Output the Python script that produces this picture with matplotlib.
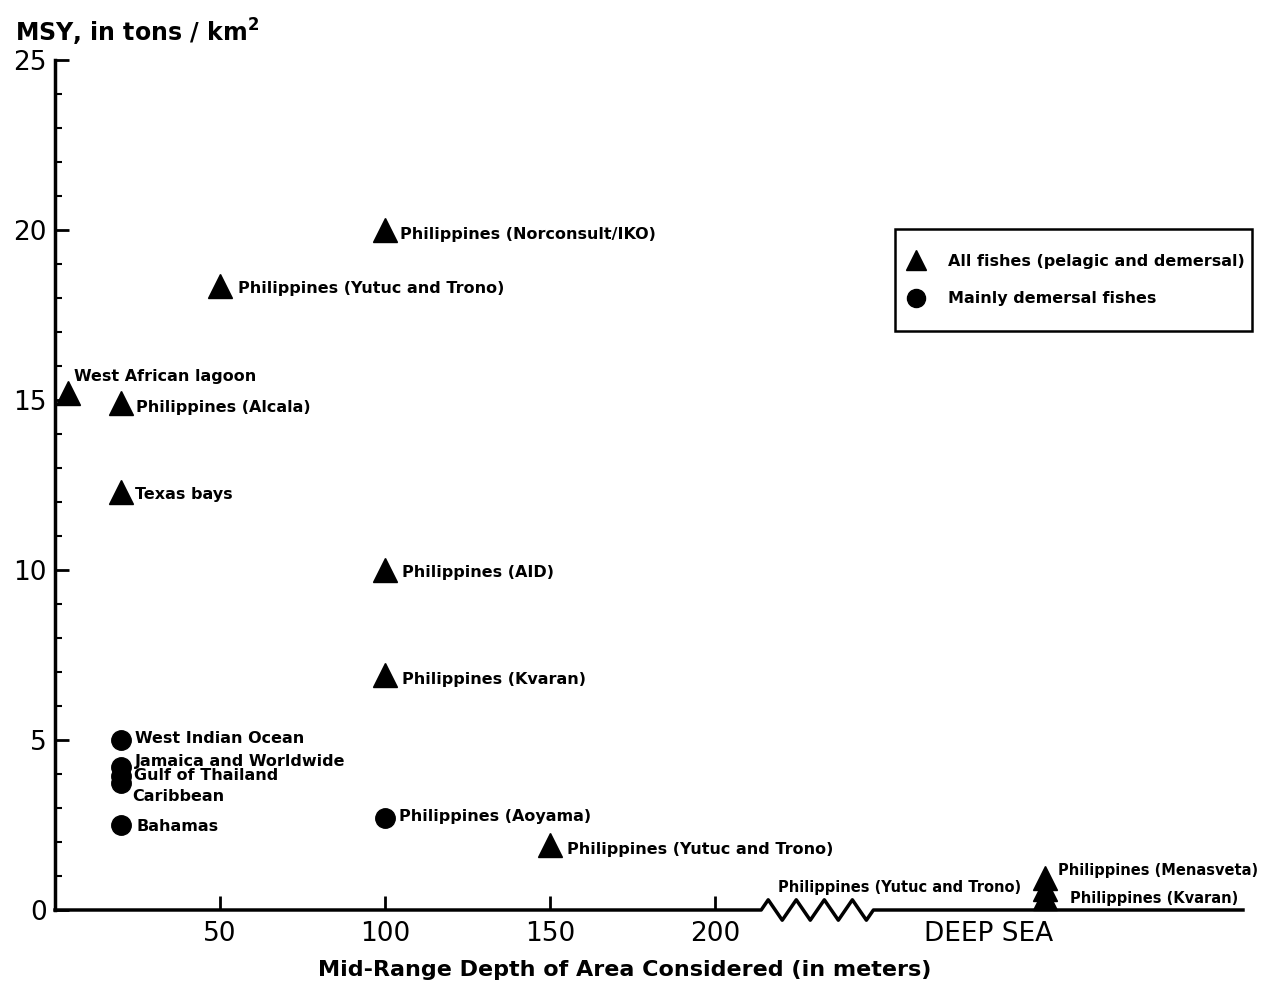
import matplotlib
matplotlib.use("Agg")
import matplotlib.pyplot as plt
from matplotlib.lines import Line2D
from matplotlib.patches import Rectangle

# --- data ---
tri_x = [4, 20, 20, 50, 100, 100, 100, 150, 300, 300, 300]
tri_y = [15.2, 14.9, 12.3, 18.35, 20.0, 10.0, 6.9, 1.9, 0.95, 0.62, 0.35]
tri_labels = ["West African lagoon", "Philippines (Alcala)", "Texas bays",
              "Philippines (Yutuc and Trono)", "Philippines (Norconsult/IKO)",
              "Philippines (AID)", "Philippines (Kvaran)",
              "Philippines (Yutuc and Trono)", "Philippines (Menasveta)",
              "Philippines (Yutuc and Trono)", "Philippines (Kvaran)"]

circ_x = [20, 20, 20, 20, 20, 100]
circ_y = [5.0, 4.2, 3.95, 3.75, 2.5, 2.7]
circ_labels = ["West Indian Ocean", "Jamaica and Worldwide", "Gulf of Thailand",
               "Caribbean", "Bahamas", "Philippines (Aoyama)"]

x_ticks = [50, 100, 150, 200, 283]
x_ticklabels = ["50", "100", "150", "200", "DEEP SEA"]
y_ticks = [0, 5, 10, 15, 20, 25]
break_x = [214, 248]   # where the depth axis is broken

# label offsets (points), alignment and size
tri_offsets = [(4, 12), (11, -3), (10, -2), (13, -2), (11, -3), (12, -2), (12, -3),
               (12, -3), (9, 5), (-17, 1), (18, 0)]
tri_ha = ["left"] * 9 + ["right", "left"]
tri_size = [11.5] * 8 + [10.5, 10.5, 10.5]
circ_offsets = [(10, 1), (10, 4), (9, 0), (8, -10), (11, -1), (10, 1)]

fig = plt.figure(figsize=(12.63, 9.84), dpi=100)
ax = fig.add_axes([55 / 1263, 1 - 910 / 984, 1188 / 1263, 850 / 984])

ax.plot(tri_x, tri_y, linestyle="none", marker="^", markersize=17,
        color="black", clip_on=False, zorder=3)
ax.plot(circ_x, circ_y, linestyle="none", marker="o", markersize=14,
        color="black", clip_on=False, zorder=3)

for x, y, s, off, ha, fs in zip(tri_x, tri_y, tri_labels, tri_offsets, tri_ha, tri_size):
    ax.annotate(s, (x, y), xytext=off, textcoords="offset points", ha=ha,
                va="center", fontsize=fs, fontweight="bold")
for x, y, s, off in zip(circ_x, circ_y, circ_labels, circ_offsets):
    ax.annotate(s, (x, y), xytext=off, textcoords="offset points", ha="left",
                va="center", fontsize=11.5, fontweight="bold")

ax.set_xlim(0, 360)
ax.set_ylim(0, 25)

# axes styling
for side in ["top", "right", "bottom"]:
    ax.spines[side].set_visible(False)
ax.spines["left"].set_linewidth(2.5)

# bottom axis drawn by hand with a zigzag break
n_teeth = 4
zx = [0, break_x[0]]
zy = [0, 0]
step = (break_x[1] - break_x[0]) / (2 * n_teeth)
for i in range(2 * n_teeth):
    zx.append(break_x[0] + step * (i + 0.5))
    zy.append(0.3 if i % 2 == 0 else -0.3)
zx += [break_x[1], 360]
zy += [0, 0]
ax.plot(zx, zy, color="black", linewidth=2.5, clip_on=False, zorder=2)

ax.set_xticks(x_ticks)
ax.set_xticklabels(x_ticklabels)
ax.xaxis.get_major_ticks()[-1].tick1line.set_visible(False)
ax.tick_params(axis="x", direction="in", length=10, width=2, pad=8, labelsize=19)

ax.set_yticks(y_ticks)
ax.set_yticks(range(0, 26), minor=True)
ax.tick_params(axis="y", which="major", direction="in", length=10, width=2,
               pad=6, labelsize=19)
ax.tick_params(axis="y", which="minor", direction="in", length=5, width=1.5)

# axis titles
fig.text(15 / 1263, 1 - 32 / 984, r"MSY, in tons / km$^\mathbf{2}$",
         fontsize=17, fontweight="bold", ha="left", va="center")
fig.text(625 / 1263, 1 - 970 / 984, "Mid-Range Depth of Area Considered (in meters)",
         fontsize=16, fontweight="bold", ha="center", va="center")

# legend with a hand-drawn box (more padding top/bottom than at the sides)
handles = [Line2D([], [], linestyle="none", marker="^", markersize=15, color="black"),
           Line2D([], [], linestyle="none", marker="o", markersize=13, color="black")]
fig.legend(handles, ["All fishes (pelagic and demersal)", "Mainly demersal fishes"],
           loc="center left", bbox_to_anchor=(906 / 1263, 1 - 280 / 984),
           borderaxespad=0, borderpad=0, frameon=False,
           prop={"size": 11.5, "weight": "bold"},
           labelspacing=1.4, handletextpad=1.4, handlelength=1.2)
fig.patches.append(Rectangle((895 / 1263, 1 - 331 / 984), 357 / 1263, 102 / 984,
                             transform=fig.transFigure, fill=False,
                             edgecolor="black", linewidth=1.8))

fig.savefig("out.png", dpi=100)
